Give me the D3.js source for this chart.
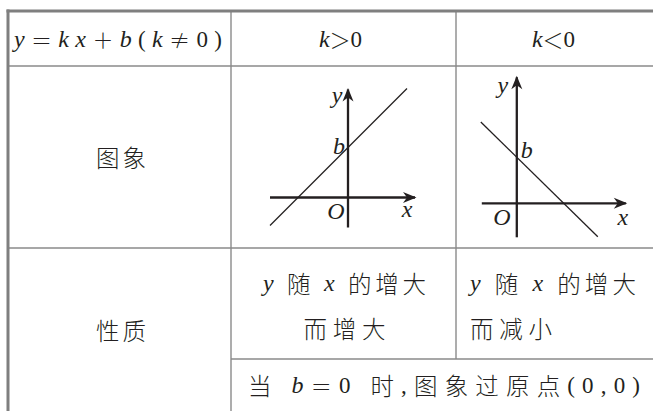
<!DOCTYPE html>
<html><head><meta charset="utf-8">
<script src="https://cdn.jsdelivr.net/npm/d3@7"></script>
<style>
html,body{margin:0;padding:0;background:#fff;}
svg{display:block;}
</style>
</head><body>
<svg id="c" width="653" height="411"></svg>
<script>
// ---- data ----
const headers = ["y=kx+b(k≠0)", "k>0", "k<0"];
const rowLabels = ["图象", "性质"];
const slopes = [1, -0.98];
const intercepts = [5, 4.6];
const lineXRange = [[-7.8, 5.9], [-3.6, 8.1]];
const axisXRange = [[-7.8, 6.9], [-3.5, 11.1]];
const axisYRange = [[-3, 11], [-3.4, 12.8]];
const propIncrease = ["y 随 x 的增大", "而增大"];
const propDecrease = ["y 随 x 的增大", "而减小"];
const propOrigin = "当 b=0 时,图象过原点(0,0)";

// ---- layout ----
const svg = d3.select("#c");
const colX = [8, 231, 456, 653];
const rowY = [11, 66, 248, 359, 411];
const ink = "#231f20";
const gridC = "#8a8a8a";
const SERIF = "'Liberation Serif','Times New Roman','DejaVu Serif',serif";
const CJK = "'Noto Sans CJK SC','Noto Sans',sans-serif";

const g = svg.append("g");
function hl(y, x1, x2, w, c){ g.append("line").attr("x1",x1).attr("x2",x2).attr("y1",y).attr("y2",y).attr("stroke",c).attr("stroke-width",w); }
function vl(x, y1, y2, w, c){ g.append("line").attr("x1",x).attr("x2",x).attr("y1",y1).attr("y2",y2).attr("stroke",c).attr("stroke-width",w); }
hl(rowY[1], colX[0], colX[3], 1.4, gridC);
hl(rowY[2], colX[0], colX[3], 1.4, gridC);
hl(rowY[3], colX[1], colX[3], 1.4, gridC);
vl(colX[1], rowY[0], rowY[4], 1.4, gridC);
vl(colX[2], rowY[0], rowY[3], 1.4, gridC);
hl(rowY[0], colX[0]-1.5, colX[3], 3, "#7f7f7f");
vl(colX[0], rowY[0]-1.5, rowY[4], 3, "#7f7f7f");

// rich text: letters -> serif italic, digits/parens/comma -> serif upright,
// = + > < ≠ -> full-width symbols, other -> CJK text
const symMap = {"=":"＝","+":"＋",">":"＞","<":"＜","≠":"≠"};
function rich(str, x, y, anchor, len){
  const t = svg.append("text").attr("x", x).attr("y", y).attr("text-anchor", anchor)
    .attr("dominant-baseline","central").attr("fill", ink);
  if (len) t.attr("textLength", len).attr("lengthAdjust","spacing");
  for (const ch of str) {
    const s = t.append("tspan");
    if (/[a-zA-Z]/.test(ch)) s.style("font-family", SERIF).style("font-style","italic").style("font-size","24px").text(ch);
    else if (/[0-9(),]/.test(ch)) s.style("font-family", SERIF).style("font-size","23px").text(ch);
    else if (symMap[ch]) s.style("font-family", CJK).style("font-weight","300").style("font-size","21px").text(symMap[ch]);
    else if (ch === " ") s.style("font-family", CJK).style("font-size","23px").text("\u2005");
    else s.style("font-family", CJK).style("font-weight","300").style("font-size","23.5px").text(ch);
  }
  return t;
}

// header
rich(headers[0], 14, 39, "start", 208);
rich(headers[1], (colX[1]+colX[2])/2 - 3, 39, "middle");
rich(headers[2], (colX[2]+colX[3])/2 - 1, 39, "middle");

// row labels
rowLabels.forEach((lab, i) => {
  rich(lab, 121, i ? 330 : 157, "middle", 50);
});

// properties
const c2 = (colX[1]+colX[2])/2 + 1;
rich(propIncrease[0], c2, 283, "middle", 163);
rich(propIncrease[1], c2, 328, "middle", 82);
rich(propDecrease[0], 470, 283, "start", 166);
rich(propDecrease[1], 470, 328, "start", 82);
rich(propOrigin, 248, 385, "start", 392);

// graphs
const defs = svg.append("defs");
defs.append("marker").attr("id","arr").attr("viewBox","-13 -6 15 12")
  .attr("refX",0).attr("refY",0).attr("markerWidth",15).attr("markerHeight",12)
  .attr("markerUnits","userSpaceOnUse").attr("orient","auto")
  .append("path").attr("d","M1.5,0 L-12,-5.5 L-8,0 L-12,5.5 Z").attr("fill", ink);

const origins = [[348, 197.5], [516.8, 203.3]];
const unit = 10;
const labelPos = [
  {y:[-1.1, 10.3], b:[-0.9, 5.2], O:[-1.2, -1.3], x:[5.9, -1.1]},
  {y:[-1.4, 11.8], b:[1.0, 5.3], O:[-1.5, -1.4], x:[10.6, -1.4]}
];
origins.forEach((o, i) => {
  const xs = d3.scaleLinear().domain([0, 1]).range([o[0], o[0]+unit]);
  const ys = d3.scaleLinear().domain([0, 1]).range([o[1], o[1]-unit]);
  const gg = svg.append("g");
  gg.append("line").attr("x1", xs(axisXRange[i][0])).attr("x2", xs(axisXRange[i][1]) - 2)
    .attr("y1", ys(0)).attr("y2", ys(0)).attr("stroke", ink).attr("stroke-width", 2.3)
    .attr("marker-end","url(#arr)");
  gg.append("line").attr("x1", xs(0)).attr("x2", xs(0))
    .attr("y1", ys(axisYRange[i][0])).attr("y2", ys(axisYRange[i][1]) + 2)
    .attr("stroke", ink).attr("stroke-width", 2.3).attr("marker-end","url(#arr)");
  const fx = x => slopes[i]*x + intercepts[i];
  const line = d3.line().x(d => xs(d)).y(d => ys(fx(d)));
  gg.append("path").attr("d", line(lineXRange[i])).attr("stroke", ink)
    .attr("stroke-width", 1.3).attr("fill","none");
  const lp = labelPos[i];
  [["y", lp.y], ["b", lp.b], ["O", lp.O], ["x", lp.x]].forEach(([s, p]) => {
    gg.append("text").attr("x", xs(p[0])).attr("y", ys(p[1]))
      .attr("text-anchor","middle").attr("dominant-baseline","central")
      .style("font-family", SERIF).style("font-style","italic")
      .attr("fill", ink).style("font-size","24px").text(s);
  });
});
</script>
</body></html>
